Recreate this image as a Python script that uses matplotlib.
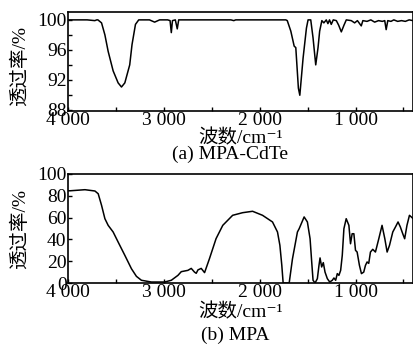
import matplotlib
matplotlib.use("Agg")
import matplotlib.pyplot as plt
from matplotlib.ticker import FixedLocator, MultipleLocator

plt.rcParams['font.family'] = ['Liberation Serif', 'DejaVu Serif', 'Noto Sans CJK SC']
plt.rcParams['font.size'] = 14

# (a) MPA-CdTe spectrum
wn_a = [4000, 3800, 3720, 3700, 3688, 3650, 3615, 3581, 3529, 3477, 3442,
        3407, 3356, 3332, 3296, 3262, 3150, 3096, 3044, 2960, 2935, 2922,
        2910, 2880, 2860, 2845, 2800, 2300, 2270, 2250, 1727, 1712, 1675,
        1640, 1623, 1596, 1581, 1547, 1512, 1495, 1467, 1443, 1415, 1391,
        1374, 1351, 1330, 1305, 1288, 1271, 1253, 1232, 1200, 1176, 1148,
        1120, 1096, 1044, 1009, 980, 940, 923, 880, 840, 800, 760, 720,
        695, 680, 663, 630, 600, 560, 520, 480, 440, 400]
t_a = [100.0, 100.0, 99.9, 100.0, 100.0, 99.6, 98.0, 95.8, 93.2, 91.6, 91.05,
       91.6, 94.0, 96.7, 99.4, 100.0, 100.0, 99.7, 100.0, 100.0, 99.9, 98.3,
       99.9, 100.0, 98.8, 100.0, 100.0, 100.0, 99.9, 100.0, 100.0, 99.9, 98.5,
       96.5, 96.3, 90.9, 89.95, 94.9, 98.9, 100.0, 100.0, 97.6, 94.0, 96.3,
       98.5, 99.9, 99.6, 100.0, 99.5, 100.0, 99.4, 100.0, 99.9, 99.3, 98.4,
       99.3, 100.0, 99.9, 99.6, 99.9, 99.2, 99.9, 99.8, 100.0, 99.7, 99.9, 99.8,
       99.9, 98.7, 99.9, 99.8, 100.0, 99.8, 99.9, 99.8, 100.0, 99.9]

# (b) MPA spectrum
wn_b = [4000, 3979, 3823, 3719, 3685, 3650, 3615, 3581, 3529, 3477, 3407,
        3338, 3286, 3234, 3130, 2992, 2922, 2853, 2818, 2749, 2714, 2680,
        2662, 2644, 2610, 2575, 2524, 2455, 2385, 2282, 2178, 2074, 1970,
        1866, 1814, 1789, 1769, 1755, 1692, 1658, 1606, 1588, 1536, 1502,
        1474, 1457, 1443, 1422, 1398, 1381, 1370, 1353, 1336, 1318, 1294,
        1269, 1242, 1225, 1207, 1190, 1173, 1155, 1138, 1121, 1097, 1069,
        1052, 1035, 1017, 1000, 983, 959, 938, 914, 896, 879, 862, 844, 820,
        792, 757, 723, 694, 670, 645, 611, 583, 556, 532, 507, 487, 463, 437,
        410, 400]
t_b = [84.6, 84.6, 85.6, 84.4, 81.9, 71.3, 59.0, 52.9, 46.8, 37.6, 25.4,
       13.1, 6.1, 2.5, 0.9, 0.9, 2.5, 7.0, 10.4, 11.6, 13.4, 10.0,
       8.9, 12.0, 13.4, 9.5, 22.3, 40.7, 52.9, 62.1, 64.5, 65.8, 62.1,
       56.0, 46.8, 34.6, 16.2, 0.0, 0.0, 22.0, 46.8, 49.8, 60.6, 56.0,
       40.6, 19.3, 2.5, 0.0, 4.0, 16.2, 23.0, 14.7, 18.7, 10.0, 4.0,
       0.9, 2.5, 4.6, 2.5, 8.6, 7.0, 11.6, 25.4, 49.8, 59.0, 52.9,
       36.0, 45.2, 45.2, 30.0, 28.4, 16.2, 8.6, 10.0, 16.2, 19.3, 18.0, 28.4, 30.9,
       28.4, 40.6, 52.9, 40.6, 28.4, 34.6, 46.8, 51.4, 56.0, 51.4, 45.2, 40.6, 52.9, 62.1,
       60.0, 59.0]

x_major = [4000, 3000, 2000, 1000]
x_minor = [3500, 2500, 1500, 500]
x_labels = ['4 000', '3 000', '2 000', '1 000']

fig = plt.figure(figsize=(4.14, 3.46), dpi=100)
W, H = 414.0, 346.0
ax1 = fig.add_axes([68 / W, 1 - 111 / H, 345 / W, 99 / H])
ax2 = fig.add_axes([68 / W, 1 - 283 / H, 345 / W, 109 / H])

ax1.plot(wn_a, t_a, color='black', lw=1.1)
ax2.plot(wn_b, t_b, color='black', lw=1.1)

ax1.set_ylim(87.85, 101.05)
ax1.set_yticks([88, 92, 96, 100])
ax1.yaxis.set_minor_locator(MultipleLocator(2))
ax2.set_ylim(0, 100)
ax2.set_yticks([0, 20, 40, 60, 80, 100])

for ax in (ax1, ax2):
    ax.set_xlim(4000, 400)
    ax.xaxis.set_major_locator(FixedLocator(x_major))
    ax.set_xticklabels(x_labels)
    ax.xaxis.set_minor_locator(FixedLocator(x_minor))
    ax.tick_params(which='both', direction='in', length=3, width=1,
                   labelsize=14, pad=1, top=False, right=False)
    for s in ax.spines.values():
        s.set_linewidth(1.2)

fig.text(241 / W, 1 - 138 / H, '波数/cm⁻¹', ha='center', va='center', fontsize=14)
fig.text(230 / W, 1 - 154 / H, '(a) MPA-CdTe', ha='center', va='center', fontsize=14)
fig.text(241 / W, 1 - 312 / H, '波数/cm⁻¹', ha='center', va='center', fontsize=14)
fig.text(235 / W, 1 - 335 / H, '(b) MPA', ha='center', va='center', fontsize=14)
fig.text(20 / W, 1 - 66 / H, '透过率/%', rotation=90, ha='center', va='center', fontsize=14)
fig.text(20 / W, 1 - 229 / H, '透过率/%', rotation=90, ha='center', va='center', fontsize=14)

fig.savefig('out.png', dpi=100)
